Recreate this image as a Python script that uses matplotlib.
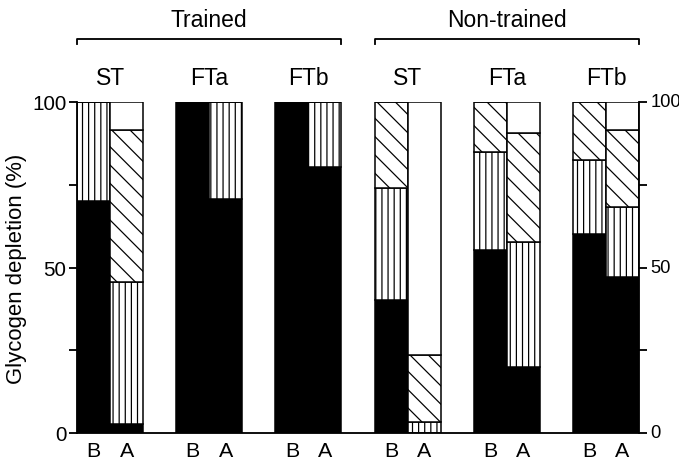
import numpy as np
import matplotlib
matplotlib.use('Agg')
import matplotlib.pyplot as plt

plt.rcParams['font.family'] = ['Liberation Sans', 'DejaVu Sans']
plt.rcParams['hatch.linewidth'] = 0.8

# data: percent of fibres per depletion class, B = before, A = after
gruppi = ['Trained', 'Non-trained']
fibre = ['ST', 'FTa', 'FTb', 'ST', 'FTa', 'FTb']
fasi = ['B', 'A'] * 6
nero = [70, 2.7, 100, 70.8, 100, 80.4, 40.2, 0, 55.3, 19.8, 60.2, 47]
verticale = [30, 42.8, 0, 29.2, 0, 19.6, 33.9, 3.2, 29.7, 37.8, 22.3, 21.2]
diagonale = [0, 46.1, 0, 0, 0, 0, 25.9, 20.3, 15, 32.9, 17.5, 23.4]
etichette_y = [0, 50, 100]

nero = np.array(nero)
verticale = np.array(verticale)
diagonale = np.array(diagonale)
bianco = 100 - nero - verticale - diagonale

# positions: pairs of bars with one empty slot between the pairs
x = np.array([3 * (i // 2) + (i % 2) for i in range(12)])

dpi = 110
fig = plt.figure(figsize=(679 / dpi, 464 / dpi), dpi=dpi)
ax = fig.add_axes([77 / 679, 30 / 464, 562 / 679, 331 / 464])

ax.bar(x, nero, width=1, color='black', edgecolor='black', linewidth=1)
ax.bar(x, verticale, width=1, bottom=nero, color='white', edgecolor='black',
       linewidth=1, hatch='|||')
ax.bar(x, diagonale, width=1, bottom=nero + verticale, color='white',
       edgecolor='black', linewidth=1, hatch='\\\\')
ax.bar(x, bianco, width=1, bottom=nero + verticale + diagonale, color='white',
       edgecolor='black', linewidth=1)

ax.set_xlim(-0.5, 16.5)
ax.set_ylim(0, 100)
ax.spines['top'].set_visible(False)
for s in ['left', 'right', 'bottom']:
    ax.spines[s].set_linewidth(1.2)

ax.set_yticks([0, 25, 50, 75, 100])
ax.set_yticklabels(['0', '', '50', '', '100'])
ax.tick_params(axis='y', direction='out', length=5, width=1.2, labelsize=13.5,
               left=True, right=True, labelleft=True, labelright=False, pad=2)
ax.set_xticks(x)
ax.set_xticklabels(fasi)
ax.tick_params(axis='x', length=0, labelsize=14, pad=5.5)
ax.set_ylabel('Glycogen depletion (%)', fontsize=14.5, labelpad=3)

# right side labels as text, so "100" stays inside the figure
for v in etichette_y:
    ax.text(1.02, v, str(v), transform=ax.get_yaxis_transform(),
            ha='left', va='center', fontsize=12)

# labels of fibre types above each pair
for i in range(6):
    ax.text(3 * i + 0.5, 104, fibre[i], ha='center', va='bottom', fontsize=15)

# brackets for the two groups
for g in range(2):
    x0 = -0.5 + 9 * g
    x1 = 7.5 + 9 * g
    ax.plot([x0, x0, x1, x1], [117.5, 119, 119, 117.5], color='black',
            linewidth=1.2, clip_on=False)
    ax.text((x0 + x1) / 2, 121.5, gruppi[g], ha='center', va='bottom', fontsize=15)

fig.savefig('out.png', dpi=dpi)
